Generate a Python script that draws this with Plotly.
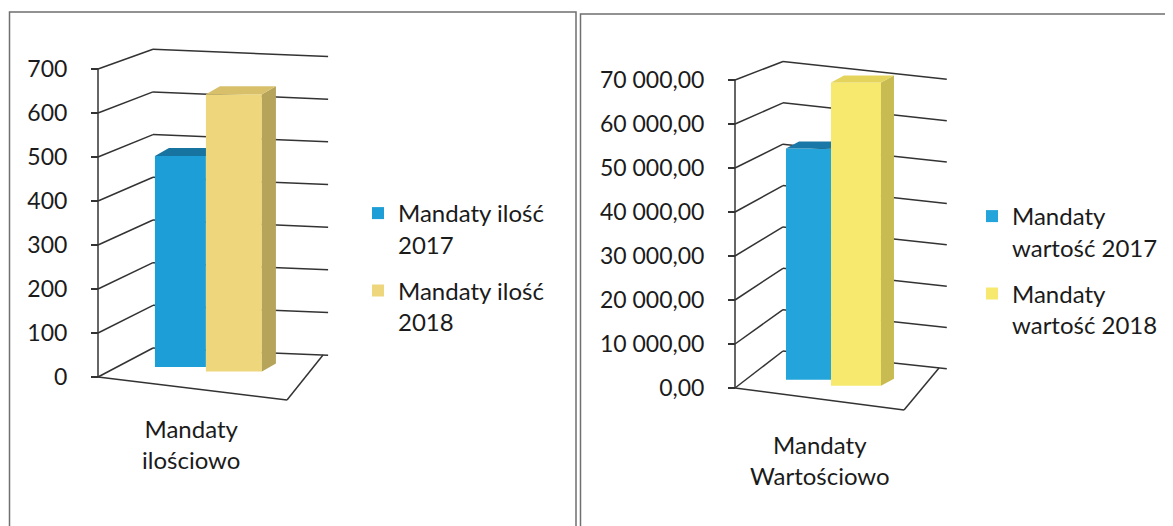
import plotly.graph_objects as go

# ---------------- data ----------------
category_ilosc = "Mandaty<br>ilościowo"
category_wartosc = "Mandaty<br>Wartościowo"

series_ilosc = ["Mandaty ilość<br>2017", "Mandaty ilość<br>2018"]
values_ilosc = [480, 630]

series_wartosc = ["Mandaty<br>wartość 2017", "Mandaty<br>wartość 2018"]
values_wartosc = [52600.0, 68900.0]

ticks_ilosc = [0, 100, 200, 300, 400, 500, 600, 700]
ticklabels_ilosc = ["0", "100", "200", "300", "400", "500", "600", "700"]

ticks_wartosc = [0, 10000, 20000, 30000, 40000, 50000, 60000, 70000]
ticklabels_wartosc = ["0,00", "10 000,00", "20 000,00", "30 000,00",
                      "40 000,00", "50 000,00", "60 000,00", "70 000,00"]

# ---------------- styling / geometry ----------------
# page body has an 8px margin, so the figure starts at (8, 8) in the window
OFF = 8
W, H = 1173 - OFF, 526 - OFF
FONT = "Lato"
TXT = "#1b1b1b"
LINE = "#333333"


def PX(px):
    return (px - OFF) / W


def PY(py):
    return 1 - (py - OFF) / H


left = dict(
    foot=(98, 377), K=308 / 700, FR=(189, 23), BL=(55, -29), BR=(225, -22),
    s_back=0.97, back_end=1.03, d0=0.5, bars_u=[(0.164, 0.448), (0.448, 0.760)],
    depth_px=(14, -8), xdom=(86, 360), ydom=(30, 440),
    front=["#1E9ED6", "#EDD67C"], top=["#17739F", "#D8C06B"], side=["#176E98", "#B6A45A"],
    xa="x", ya="y", legend="legend",
)
right = dict(
    foot=(735, 388), K=308 / 70000, FR=(169, 22), BL=(48, -37), BR=(204, -20),
    s_back=0.94, back_end=1.05, d0=0.4, bars_u=[(0.194, 0.469), (0.469, 0.774)],
    depth_px=(13, -7), xdom=(723, 1000), ydom=(30, 440),
    front=["#23A4DA", "#F7E86E"], top=["#1A78A8", "#E4D45C"], side=["#1A78A8", "#C8BB52"],
    xa="x2", ya="y2", legend="legend2",
)


def proj(g, u, d, v):
    """oblique/bilinear projection of (u along category, d depth, value v) to plot coords"""
    fr, bl, br = g["FR"], g["BL"], g["BR"]
    ox = u * (1 - d) * fr[0] + (1 - u) * d * bl[0] + u * d * br[0]
    oy = u * (1 - d) * fr[1] + (1 - u) * d * bl[1] + u * d * br[1]
    s = 1 - (1 - g["s_back"]) * d
    return ox, v * s - oy / g["K"]


fig = go.Figure()
shapes = []


def add_chart(g, ticks, ticklabels, names, values):
    xr_, yr_ = g["xa"], g["ya"]
    lst = dict(color=LINE, width=1.5)

    def seg(p, q):
        shapes.append(dict(type="line", xref=xr_, yref=yr_, x0=p[0], y0=p[1],
                           x1=q[0], y1=q[1], line=lst, layer="below"))

    for v in ticks:
        a = proj(g, 0, 0, v)
        b = proj(g, 0, 1, v)
        c = proj(g, g["back_end"], 1, v)
        seg(a, b)
        seg(b, c)
    # floor front and right edges
    seg(proj(g, 0, 0, 0), proj(g, 1, 0, 0))
    seg(proj(g, 1, 0, 0), proj(g, 1, 1, 0))
    # front vertical axis
    seg(proj(g, 0, 0, 0), proj(g, 0, 0, ticks[-1]))

    d0 = g["d0"]
    dX = g["depth_px"][0]
    dV = -g["depth_px"][1] / g["K"]
    n = len(values)
    for i, (ul, ur) in enumerate(g["bars_u"]):
        xl, _ = proj(g, ul, d0, 0)
        xr, _ = proj(g, ur, d0, 0)
        _, base = proj(g, (ul + ur) / 2, d0, 0)
        v = values[i]
        T = base + v
        hidden_side = i < n - 1 and values[i + 1] >= v
        if not hidden_side:
            fig.add_trace(go.Scatter(
                x=[xr, xr + dX, xr + dX, xr, xr], y=[base, base + dV, T + dV, T, base],
                mode="lines", fill="toself", fillcolor=g["side"][i], line=dict(width=0),
                hoverinfo="skip", showlegend=False, xaxis=xr_, yaxis=yr_))
            tx = [xl, xr, xr + dX, xl + dX, xl]
        else:
            tx = [xl, xr, xr, xl + dX, xl]
        ty = [T, T, T + dV, T + dV, T]
        fig.add_trace(go.Scatter(
            x=tx, y=ty, mode="lines", fill="toself", fillcolor=g["top"][i],
            line=dict(width=0), hoverinfo="skip", showlegend=False, xaxis=xr_, yaxis=yr_))
        fig.add_trace(go.Bar(
            x=[(xl + xr) / 2], y=[v], base=[base], width=[xr - xl], name=names[i],
            marker=dict(color=g["front"][i], line=dict(width=0)),
            legendgroup=f"{g['legend']}_{i}",
            xaxis=xr_, yaxis=yr_, legend=g["legend"]))

    x0px, x1px = g["xdom"]
    y0px, y1px = g["ydom"]
    fx, fy = g["foot"]
    K = g["K"]
    xname = "xaxis" if xr_ == "x" else "xaxis2"
    yname = "yaxis" if yr_ == "y" else "yaxis2"
    fig.layout[xname] = dict(domain=[PX(x0px), PX(x1px)], range=[x0px - fx, x1px - fx],
                             visible=False, anchor=yr_, fixedrange=True)
    fig.layout[yname] = dict(domain=[PY(y1px), PY(y0px)],
                             range=[-(y1px - fy) / K, (fy - y0px) / K],
                             anchor="free", position=PX(fx),
                             tickmode="array", tickvals=ticks, ticktext=ticklabels,
                             ticks="outside", ticklen=7, tickcolor=LINE, tickwidth=1.5,
                             ticklabelstandoff=19,
                             showgrid=False, zeroline=False, showline=False,
                             tickfont=dict(family=FONT, size=23, color=TXT), fixedrange=True)


add_chart(left, ticks_ilosc, ticklabels_ilosc, series_ilosc, values_ilosc)
add_chart(right, ticks_wartosc, ticklabels_wartosc, series_wartosc, values_wartosc)

# panel borders
border = dict(color="#6f6f6f", width=1.5)
shapes += [
    dict(type="rect", xref="paper", yref="paper", x0=PX(9.5), x1=PX(576), y0=-0.1, y1=PY(12),
         line=border, layer="below"),
    dict(type="rect", xref="paper", yref="paper", x0=PX(580.5), x1=1.05, y0=-0.1, y1=PY(14),
         line=border, layer="below"),
]

annotations = [
    dict(text=category_ilosc, x=PX(191), y=PY(444), xref="paper", yref="paper",
         showarrow=False, xanchor="center", yanchor="middle",
         font=dict(family=FONT, size=24, color=TXT)),
    dict(text=category_wartosc, x=PX(820), y=PY(460), xref="paper", yref="paper",
         showarrow=False, xanchor="center", yanchor="middle",
         font=dict(family=FONT, size=24, color=TXT)),
]

legend_common = dict(font=dict(family=FONT, size=24, color=TXT), bgcolor="rgba(0,0,0,0)",
                     xanchor="left", yanchor="top", valign="top", itemclick=False,
                     itemdoubleclick=False, tracegroupgap=12)

fig.update_layout(
    width=W, height=H, margin=dict(l=0, r=0, t=0, b=0, autoexpand=False),
    paper_bgcolor="white", plot_bgcolor="rgba(0,0,0,0)",
    barmode="overlay", shapes=shapes, annotations=annotations,
    legend=dict(x=PX(358), y=PY(191), **legend_common),
    legend2=dict(x=PX(972), y=PY(194), **legend_common),
    showlegend=True, hovermode=False,
)

fig.write_html("out.html")
